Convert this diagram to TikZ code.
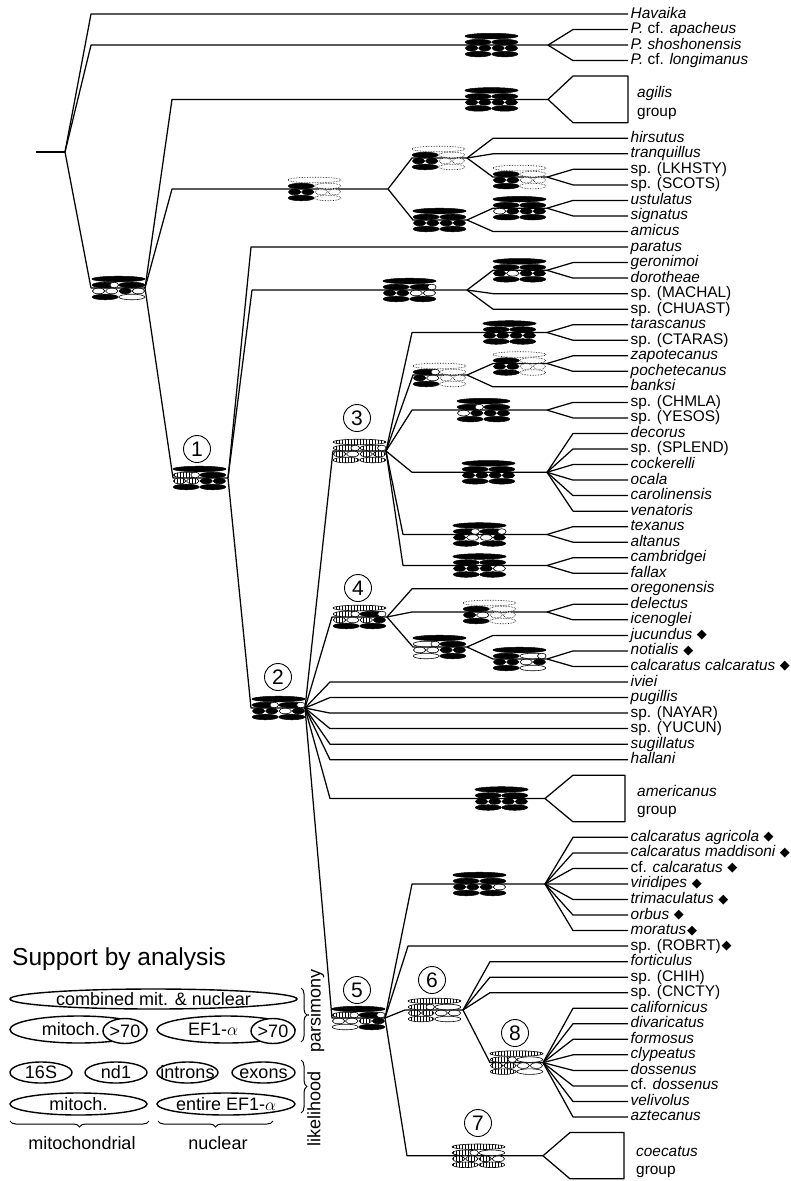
\documentclass[tikz,border=0pt]{standalone}
\usepackage{fontspec}
\setmainfont{Liberation Sans}
\newfontfamily\symfont{DejaVu Sans}
\usetikzlibrary{patterns,shapes.geometric,decorations.pathreplacing}
\tikzset{
  branch/.style={line width=1.25pt,line join=round},
  leaf/.style={anchor=west,inner xsep=2.5pt,inner ysep=0pt,text height=11pt,text depth=3pt,
    font=\fontsize{15.4}{16}\selectfont\itshape},
  grouplab/.style={leaf,inner xsep=0pt},
  cladeno/.style={circle,draw,line width=0.9pt,minimum size=27pt,inner sep=0pt,font=\fontsize{21}{21}\selectfont},
  keyoval/.style={ellipse,draw,line width=1.4pt,inner sep=0pt,fill=white,text height=12.5pt,text depth=0pt,
    font=\fontsize{18}{18}\selectfont},
  keytext/.style={inner sep=0pt,font=\fontsize{18}{18}\selectfont},
  keybrace/.style={decorate,decoration={brace,amplitude=6pt},line width=1pt},
  sb/.style={draw,fill=black,line width=0.5pt},
  sw/.style={draw,fill=white,line width=0.6pt},
  sh/.style={draw,line width=0.6pt,preaction={fill=white},pattern=vertical lines},
  sd/.style={draw,densely dotted,line width=0.6pt,fill=white},
  sn/.style={}
}
% one support box: left x, centre y, row1, row2 left, row2 right, row3, row4
\newcommand\rowtwo[3]{%
  \path[s#2] (#1,-3) ellipse (13pt and 2.8pt);
  \path[s#3] (#1+9,-3) ellipse (4.3pt and 2.8pt);}
\newcommand\rowthree[4]{%
  \path[s#1] (6.6,3) ellipse (6.2pt and 2.8pt);
  \path[s#2] (19.8,3) ellipse (6.2pt and 2.8pt);
  \path[s#3] (33.2,3) ellipse (6.2pt and 2.8pt);
  \path[s#4] (46.4,3) ellipse (6.2pt and 2.8pt);}
\newcommand\rowfour[2]{%
  \path[s#1] (13.2,9) ellipse (13pt and 2.8pt);
  \path[s#2] (39.8,9) ellipse (13pt and 2.8pt);}
\newcommand\supbox[7]{%
  \begin{scope}[shift={(#1,#2)}]
    \path[s#3] (26.5,-9) ellipse (26.5pt and 2.8pt);
    \rowtwo{13.2}#4
    \rowtwo{39.8}#5
    \rowthree#6
    \rowfour#7
  \end{scope}}
\newcommand\dm{\hspace{0.3em}\raisebox{0.5pt}{\symfont\fontsize{13}{13}\selectfont ◆}}
\newcommand\dmm{\hspace{0.05em}\raisebox{0.5pt}{\symfont\fontsize{13}{13}\selectfont ◆}}

\begin{document}
\begin{tikzpicture}[x=1pt,y=-1pt]
\useasboundingbox (0,0) rectangle (791,1181);

% knees (k) and forks (v) of the tree
\coordinate (stem) at (36,152);
\coordinate (vR) at (65,152);
\coordinate (kP) at (91,45.1);   \coordinate (vP) at (548,45.1);
\coordinate (kA) at (91,288);    \coordinate (vA) at (145,288);
\coordinate (kAg) at (172,99.4); \coordinate (vAg) at (548,99.4);
\coordinate (kB) at (172,189);   \coordinate (vB) at (388,189);
\coordinate (kC) at (412,158);   \coordinate (vC) at (467,158);
\coordinate (kE) at (493,177.1); \coordinate (vE) at (547,177.1);
\coordinate (kD) at (413,220);   \coordinate (vD) at (467,220);
\coordinate (kF) at (493,208.2); \coordinate (vF) at (547,208.2);
\coordinate (k1) at (173,478);   \coordinate (v1) at (228,478);
\coordinate (kG) at (252,290);   \coordinate (vG) at (467,290);
\coordinate (kH) at (493,270.3); \coordinate (vH) at (547,270.3);
\coordinate (k2) at (251,708);   \coordinate (v2) at (305,708);
\coordinate (k3) at (333,451);   \coordinate (v3) at (386,451);
\coordinate (kI) at (412,332.5); \coordinate (vI) at (547,332.5);
\coordinate (kJ) at (413,375);   \coordinate (vJ) at (467,375);
\coordinate (kO) at (493,363.5); \coordinate (vO) at (547,363.5);
\coordinate (kK) at (412,410.1); \coordinate (vK) at (547,410.1);
\coordinate (kL) at (412,472.3); \coordinate (vL) at (547,472.3);
\coordinate (kM) at (403,534.5); \coordinate (vM) at (547,534.5);
\coordinate (kN) at (403,565.5); \coordinate (vN) at (547,565.5);
\coordinate (k4) at (332,617);   \coordinate (v4) at (387,617);
\coordinate (kT) at (412,612);   \coordinate (vT) at (547,612);
\coordinate (kQ) at (413,647);   \coordinate (vQ) at (467,647);
\coordinate (kU) at (493,659);   \coordinate (vU) at (547,659);
\coordinate (kAm) at (330,798.5);\coordinate (vAm) at (545,798.5);
\coordinate (k5) at (332,1018);  \coordinate (v5) at (385,1018);
\coordinate (kS) at (412,884);   \coordinate (vS) at (545,884);
\coordinate (k6) at (405,1010);  \coordinate (v6) at (463,1010);
\coordinate (k8) at (490,1062.6);\coordinate (v8) at (543,1062.6);
\coordinate (k7) at (407,1155.8);\coordinate (v7) at (543,1155.8);

\draw[branch] (stem) -- (vR);
\foreach \a/\b in {R/P,R/A,A/Ag,A/B,B/C,C/E,B/D,D/F,A/1,1/G,G/H,1/2,2/3,3/I,3/J,J/O,3/K,3/L,3/M,3/N,
                   2/4,4/T,4/Q,Q/U,2/Am,2/5,5/S,5/6,6/8,5/7}
  \draw[branch] (v\a) -- (k\b) -- (v\b);

% collapsed groups
\draw[branch] (vAg) -- ++(25,-23.3) -- ++(55,0) -- ++(0,46.6) -- ++(-55,0) -- cycle;
\draw[branch] (vAm) -- ++(28,-23.3) -- ++(52,0) -- ++(0,46.6) -- ++(-52,0) -- cycle;
\draw[branch] (v7) -- ++(27,-23.3) -- ++(54,0) -- ++(0,46.3) -- ++(-54,0) -- cycle;
\node[grouplab] (agl) at (637,93) {agilis};
\node[grouplab] (agg) at (637,112) {\upshape group};
\node[grouplab] (aml) at (637,792) {americanus};
\node[grouplab] (amg) at (637,810) {\upshape group};
\node[grouplab] (col) at (636,1152) {coecatus};
\node[grouplab] (cog) at (636,1170) {\upshape group};

% taxa
\foreach \i/\pa/\off/\lab in {
  0/R/537/{Havaika},
  1/P/55/{P. {\upshape cf.} apacheus},
  2/P/55/{P. shoshonensis},
  3/P/55/{P. {\upshape cf.} longimanus},
  8/C/135/{hirsutus},
  9/C/135/{tranquillus},
  10/E/55/{\upshape sp. (LKHSTY)},
  11/E/55/{\upshape sp. (SCOTS)},
  12/F/55/{ustulatus},
  13/F/55/{signatus},
  14/D/135/{amicus},
  15/1/377/{paratus},
  16/H/55/{geronimoi},
  17/H/55/{dorotheae},
  18/G/135/{\upshape sp. (MACHAL)},
  19/G/135/{\upshape sp. (CHUAST)},
  20/I/55/{tarascanus},
  21/I/55/{\upshape sp. (CTARAS)},
  22/O/55/{zapotecanus},
  23/O/55/{pochetecanus},
  24/J/135/{banksi},
  25/K/55/{\upshape sp. (CHMLA)},
  26/K/55/{\upshape sp. (YESOS)},
  27/L/55/{decorus},
  28/L/55/{\upshape sp. (SPLEND)},
  29/L/55/{cockerelli},
  30/L/55/{ocala},
  31/L/55/{carolinensis},
  32/L/55/{venatoris},
  33/M/55/{texanus},
  34/M/55/{altanus},
  35/N/55/{cambridgei},
  36/N/55/{fallax},
  37/4/216/{oregonensis},
  38/T/55/{delectus},
  39/T/55/{icenoglei},
  40/Q/135/{jucundus\dm},
  41/U/55/{notialis\dm},
  42/U/55/{calcaratus calcaratus\dm},
  43/2/298/{iviei},
  44/2/298/{pugillis},
  45/2/298/{\upshape sp. (NAYAR)},
  46/2/298/{\upshape sp. (YUCUN)},
  47/2/298/{sugillatus},
  48/2/298/{hallani},
  53/S/55/{calcaratus agricola\dm},
  54/S/55/{calcaratus maddisoni\dm},
  55/S/55/{{\upshape cf.} calcaratus\dm},
  56/S/55/{viridipes\dm},
  57/S/55/{trimaculatus\dm},
  58/S/55/{orbus\dm},
  59/S/55/{moratus\dmm},
  60/5/220/{{\upshape sp. (ROBRT)}\dmm},
  61/6/138/{forticulus},
  62/6/138/{\upshape sp. (CHIH)},
  63/6/138/{\upshape sp. (CNCTY)},
  64/8/55/{californicus},
  65/8/55/{divaricatus},
  66/8/55/{formosus},
  67/8/55/{clypeatus},
  68/8/55/{dossenus},
  69/8/55/{{\upshape cf.} dossenus},
  70/8/55/{velivolus},
  71/8/55/{aztecanus}}{
  \node[leaf] (n\i) at (628,{14+15.535*\i}) {\lab};
  \draw[branch] (v\pa) -- ([xshift=-\off pt]n\i.west) -- (n\i.west);
}

% support boxes
\supbox{465}{45.1}{b}{bn}{bn}{bbbb}{bb}
\supbox{465}{99.4}{b}{bn}{bn}{bbbb}{bb}
\supbox{92}{288}{b}{bw}{bn}{wwbw}{bw}
\supbox{288}{189}{d}{bn}{dn}{bbdd}{bd}
\supbox{412}{158}{d}{bn}{dn}{bbdd}{bd}
\supbox{493}{177.1}{d}{bn}{dn}{bbdd}{bd}
\supbox{413}{220}{b}{bn}{bn}{bbbb}{bb}
\supbox{493}{208.2}{b}{bn}{bn}{wbbb}{bb}
\supbox{173}{478}{b}{hw}{bn}{hhbb}{bb}
\supbox{383}{290}{b}{bn}{bw}{bbww}{bb}
\supbox{493}{270.3}{b}{bn}{bn}{bwbb}{bb}
\supbox{252}{708}{b}{bw}{bw}{bbwb}{bb}
\supbox{333}{451}{h}{hw}{hw}{hwhh}{hh}
\supbox{483}{332.5}{b}{bn}{bn}{bbbb}{bb}
\supbox{413}{375}{d}{bw}{dn}{bwdd}{bd}
\supbox{493}{363.5}{d}{bn}{dn}{bbdd}{bd}
\supbox{457}{410.1}{b}{bw}{bn}{wbbb}{bb}
\supbox{462}{472.3}{b}{bn}{bn}{bbbb}{bb}
\supbox{453}{534.5}{b}{bw}{bw}{bwwb}{bb}
\supbox{453}{565.5}{b}{bn}{bn}{bbbw}{bb}
\supbox{333}{617}{h}{hw}{bw}{hwhb}{bb}
\supbox{463}{612}{d}{bn}{dn}{bwdd}{bd}
\supbox{413}{647}{b}{ww}{bn}{wwbb}{wb}
\supbox{493}{659}{b}{bn}{ww}{bbwb}{bw}
\supbox{475}{798.5}{b}{bn}{bn}{bbbb}{bb}
\supbox{332}{1018}{b}{hw}{bw}{wwhb}{wb}
\supbox{453}{884}{b}{bn}{bn}{bbbw}{bb}
\supbox{408}{1010}{h}{hw}{wn}{hhww}{hw}
\supbox{490}{1062.6}{h}{hw}{wn}{hhww}{hw}
\supbox{452}{1155.8}{h}{hw}{wn}{hhhw}{hh}

% clade numbers
\node[cladeno] (c1) at (197,449) {1};
\node[cladeno] (c2) at (278,677) {2};
\node[cladeno] (c3) at (357,418) {3};
\node[cladeno] (c4) at (358,588) {4};
\node[cladeno] (c5) at (357,990) {5};
\node[cladeno] (c6) at (432,980) {6};
\node[cladeno] (c7) at (478,1123) {7};
\node[cladeno] (c8) at (515,1033) {8};

% key
\node[anchor=base west,inner sep=0pt,font=\fontsize{24.5}{25}\selectfont] (title) at (12,965) {Support by analysis};
\node[keyoval,minimum width=287pt,minimum height=20pt] (comb) at (153.5,999) {\makebox[0pt]{combined mit. \& nuclear}};
\node[keyoval,minimum width=137pt,minimum height=27pt] (mitp) at (78.5,1029.5) {\makebox[0pt]{mitoch.\hspace*{15pt}}};
\node[keyoval,minimum width=44pt,minimum height=25pt] (mit70) at (125,1031) {\makebox[0pt]{>70}};
\node[keyoval,minimum width=138pt,minimum height=27pt] (efp) at (226,1029.5) {\makebox[0pt]{EF1-$\alpha$\hspace*{26pt}}};
\node[keyoval,minimum width=44pt,minimum height=25pt] (ef70) at (273,1031) {\makebox[0pt]{>70}};
\node[keyoval,minimum width=62pt,minimum height=21pt] (s16) at (41,1072.5) {\makebox[0pt]{16S}};
\node[keyoval,minimum width=62pt,minimum height=21pt] (nd) at (116,1072.5) {\makebox[0pt]{nd1}};
\node[keyoval,minimum width=61pt,minimum height=21pt] (intr) at (187.5,1072.5) {\makebox[0pt]{introns}};
\node[keyoval,minimum width=63pt,minimum height=21pt] (exo) at (263.5,1072.5) {\makebox[0pt]{exons}};
\node[keyoval,minimum width=137pt,minimum height=22pt] (mitl) at (78.5,1104) {\makebox[0pt]{mitoch.}};
\node[keyoval,minimum width=138pt,minimum height=22pt] (efl) at (226,1104) {\makebox[0pt]{entire EF1-$\alpha$}};
\draw[keybrace] (301,988) -- (301,1042);
\draw[keybrace] (301,1060) -- (301,1113);
\draw[keybrace,decoration={mirror}] (10,1121) -- (149,1121);
\draw[keybrace,decoration={mirror}] (158,1121) -- (273,1121);
\node[keytext,rotate=90] (pars) at (316,1011) {parsimony};
\node[keytext,rotate=90] (lik) at (314,1109) {likelihood};
\node[keytext] (mitw) at (82,1143) {mitochondrial};
\node[keytext] (nucw) at (218,1143) {nuclear};
\end{tikzpicture}
\end{document}
